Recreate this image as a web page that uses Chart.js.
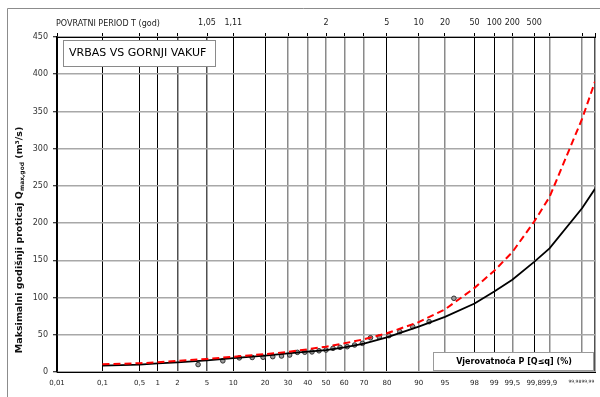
<!DOCTYPE html>
<html>
<head>
<meta charset="utf-8">
<script src="https://cdn.jsdelivr.net/npm/chart.js@4/dist/chart.umd.min.js"></script>
<style>
  html, body { margin: 0; padding: 0; background: #fff; }
  #wrap { width: 600px; height: 397px; position: relative; }
</style>
</head>
<body>
<div id="wrap"><canvas id="chart" width="600" height="397"></canvas></div>
<script>
// Probability grid (non-exceedance, %) and its labels
const probTicks = [0.01, 0.1, 0.5, 1, 2, 5, 10, 20, 30, 40, 50, 60, 70, 80, 90, 95, 98, 99, 99.5, 99.8, 99.9, 99.98, 99.99];
const probLabels = ['0,01', '0,1', '0,5', '1', '2', '5', '10', '20', '30', '40', '50', '60', '70', '80', '90', '95', '98', '99', '99,5', '99,8', '99,9', '99,98', '99,99'];
// Return period T (years) shown along the top edge
const periodLabels = ['', '', '', '', '', '1,05', '1,11', '', '', '', '2', '', '', '5', '10', '20', '50', '100', '200', '500', '', '', ''];
const yTicks = [0, 50, 100, 150, 200, 250, 300, 350, 400, 450];

// Fitted distributions, Q (m3/s) at each probability
const curveProb = [0.1, 0.5, 1, 2, 5, 10, 20, 30, 40, 50, 60, 70, 80, 90, 95, 98, 99, 99.5, 99.8, 99.9, 99.98, 99.99];
const qBlack = [8.5, 10, 11.5, 13, 15.5, 18.5, 22, 25, 27.5, 29.5, 33, 38, 46.5, 61, 74, 92, 108, 124, 148, 166, 220, 246];
const qRed = [10.3, 11.8, 13, 15, 17.5, 20.5, 24, 27, 30.5, 34, 38.5, 44, 52, 67, 84, 113, 136, 161, 202, 235, 340, 390];

// Observed annual maxima and their plotting positions (%)
const obsProb = [3.85, 7.69, 11.54, 15.38, 19.23, 23.08, 26.92, 30.77, 34.62, 38.46, 42.31, 46.15, 50.0, 53.85, 57.69, 61.54, 65.38, 69.23, 73.08, 76.92, 80.77, 84.62, 88.46, 92.31, 96.15];
const obsQ = [10, 15, 19, 19.5, 19.8, 20.6, 21.5, 22.8, 26.4, 26.6, 27, 28.5, 29.5, 31.8, 33.1, 34, 36.3, 38.5, 46, 47, 48.8, 54.2, 61, 67.6, 99];

// Inverse standard normal CDF (Acklam) - maps probability to the paper's abscissa
function probit(p) {
  const a = [-3.969683028665376e+01, 2.209460984245205e+02, -2.759285104469687e+02, 1.383577518672690e+02, -3.066479806614716e+01, 2.506628277459239e+00];
  const b = [-5.447609879822406e+01, 1.615858368580409e+02, -1.556989798598866e+02, 6.680131188771972e+01, -1.328068155288572e+01];
  const c = [-7.784894002430293e-03, -3.223964580411365e-01, -2.400758277161838e+00, -2.549732539343734e+00, 4.374664141464968e+00, 2.938163982698783e+00];
  const d = [7.784695709041462e-03, 3.224671290700398e-01, 2.445134137142996e+00, 3.754408661907416e+00];
  const pl = 0.02425, ph = 1 - pl;
  let q, r;
  if (p < pl) {
    q = Math.sqrt(-2 * Math.log(p));
    return (((((c[0]*q+c[1])*q+c[2])*q+c[3])*q+c[4])*q+c[5]) / ((((d[0]*q+d[1])*q+d[2])*q+d[3])*q+1);
  }
  if (p > ph) {
    q = Math.sqrt(-2 * Math.log(1 - p));
    return -(((((c[0]*q+c[1])*q+c[2])*q+c[3])*q+c[4])*q+c[5]) / ((((d[0]*q+d[1])*q+d[2])*q+d[3])*q+1);
  }
  q = p - 0.5; r = q * q;
  return (((((a[0]*r+a[1])*r+a[2])*r+a[3])*r+a[4])*r+a[5])*q / (((((b[0]*r+b[1])*r+b[2])*r+b[3])*r+b[4])*r+1);
}
const zOf = P => probit(P / 100);
const zMin = zOf(probTicks[0]);
const zMax = zOf(probTicks[probTicks.length - 1]);

const FONT = 'DejaVu Sans';
// vertical rulings: some drawn black, the rest grey
const darkRulings = new Set([0.01, 0.1, 0.5, 1, 10, 20, 80, 98, 99, 99.8]);
const midRulings = new Set([2, 5, 99.99]);
const rulingColor = i => {
  const p = probTicks[i];
  if (darkRulings.has(p)) return '#000000';
  if (midRulings.has(p)) return '#505050';
  return '#8a8a8a';
};
const rulingWidth = i => darkRulings.has(probTicks[i]) ? 1 : 1.5;

const probTickList = () => probTicks.map(p => ({ value: zOf(p) }));

// the two tightest labels at the right end are set small and pushed left of their rulings
const isTiny = i => i >= probTicks.length - 2;
const bottomLabel = i => isTiny(i) ? probLabels[i] + '\u2007\u2007\u2007\u2007\u2007' : probLabels[i];

const decor = {
  id: 'decor',
  beforeDraw(chart) {
    const ctx = chart.ctx;
    ctx.save();
    ctx.fillStyle = '#ffffff';
    ctx.fillRect(0, 0, chart.width, chart.height);
    ctx.restore();
  },
  afterDraw(chart) {
    const ctx = chart.ctx;
    const a = chart.chartArea;
    ctx.save();

    // outer frame
    ctx.strokeStyle = '#8c8c8c';
    ctx.lineWidth = 1;
    ctx.beginPath();
    ctx.moveTo(7.5, chart.height);
    ctx.lineTo(7.5, 8.5);
    ctx.lineTo(chart.width, 8.5);
    ctx.stroke();

    // top axis caption
    ctx.fillStyle = '#222';
    ctx.font = `8px "${FONT}"`;
    ctx.textAlign = 'left';
    ctx.textBaseline = 'middle';
    ctx.fillText('POVRATNI PERIOD T (god)', a.left - 1, 23.5);

    // station title box
    const tx = a.left + 6, ty = a.top + 3, tw = 152, th = 26;
    ctx.fillStyle = '#ffffff';
    ctx.fillRect(tx, ty, tw, th);
    ctx.strokeStyle = '#8a8a8a';
    ctx.strokeRect(tx + 0.5, ty + 0.5, tw, th);
    ctx.fillStyle = '#000';
    ctx.font = `11px "${FONT}"`;
    ctx.fillText('VRBAS VS GORNJI VAKUF', tx + 6, ty + th / 2);

    // x-axis caption box
    const bx = a.right - 162, by = a.bottom - 20, bw = 160, bh = 18;
    ctx.fillStyle = '#ffffff';
    ctx.fillRect(bx, by, bw, bh);
    ctx.strokeStyle = '#9a9a9a';
    ctx.strokeRect(bx + 0.5, by + 0.5, bw, bh);
    ctx.fillStyle = '#000';
    ctx.font = `bold 8px "${FONT}"`;
    ctx.textAlign = 'center';
    ctx.fillText('Vjerovatnoća P [Q≤q] (%)', bx + bw / 2 + 1, by + bh / 2 + 1);

    // y-axis caption with subscript
    const parts = [
      { t: 'Maksimalni godišnji proticaj Q', f: `bold 9.5px "${FONT}"`, dy: 0 },
      { t: 'max,god', f: `bold 6px "${FONT}"`, dy: 2.5 },
      { t: ' (m³/s)', f: `bold 9.5px "${FONT}"`, dy: 0 }
    ];
    let total = 0;
    parts.forEach(p => { ctx.font = p.f; p.w = ctx.measureText(p.t).width; total += p.w; });
    ctx.translate(20, 240);
    ctx.rotate(-Math.PI / 2);
    ctx.textAlign = 'left';
    ctx.textBaseline = 'middle';
    ctx.fillStyle = '#111';
    let cx = -total / 2;
    parts.forEach(p => { ctx.font = p.f; ctx.fillText(p.t, cx, p.dy); cx += p.w; });
    ctx.restore();
  }
};

new Chart(document.getElementById('chart'), {
  type: 'scatter',
  data: {
    datasets: [
      {
        label: 'red',
        data: curveProb.map((p, i) => ({ x: zOf(p), y: qRed[i] })),
        showLine: true,
        borderColor: '#ff0000',
        borderWidth: 2,
        borderDash: [7, 4],
        pointRadius: 0,
        tension: 0,
        xAxisID: 'x', yAxisID: 'y'
      },
      {
        label: 'black',
        data: curveProb.map((p, i) => ({ x: zOf(p), y: qBlack[i] })),
        showLine: true,
        borderColor: '#000000',
        borderWidth: 1.8,
        pointRadius: 0,
        tension: 0,
        xAxisID: 'x', yAxisID: 'y'
      },
      {
        label: 'obs',
        data: obsProb.map((p, i) => ({ x: zOf(p), y: obsQ[i] })),
        showLine: false,
        pointRadius: 2.3,
        pointBackgroundColor: '#9a9a9a',
        pointBorderColor: '#333333',
        pointBorderWidth: 1,
        xAxisID: 'x', yAxisID: 'y'
      }
    ]
  },
  options: {
    responsive: false,
    animation: false,
    devicePixelRatio: 1,
    layout: { padding: { top: 0, right: 3, bottom: 0, left: 0 } },
    plugins: { legend: { display: false }, tooltip: { enabled: false } },
    scales: {
      x: {
        type: 'linear', position: 'bottom', min: zMin, max: zMax,
        afterBuildTicks: s => { s.ticks = probTickList(); },
        afterFit: s => { s.height = 25; s.paddingLeft = 0; s.paddingRight = 0; },
        ticks: {
          autoSkip: false, maxRotation: 0, minRotation: 0, padding: 7, color: '#222',
          font: ctx => ({ family: FONT, size: isTiny(ctx.index) ? 4.5 : 7 }),
          callback: (v, i) => bottomLabel(i)
        },
        grid: {
          color: ctx => rulingColor(ctx.index),
          lineWidth: ctx => rulingWidth(ctx.index),
          drawTicks: false
        },
        border: { display: true, color: '#000', width: 1 }
      },
      x2: {
        type: 'linear', position: 'top', min: zMin, max: zMax,
        afterBuildTicks: s => { s.ticks = probTickList(); },
        afterFit: s => { s.height = 37; s.paddingLeft = 0; s.paddingRight = 0; },
        ticks: {
          autoSkip: false, maxRotation: 0, minRotation: 0, padding: 5, color: '#222',
          font: { family: FONT, size: 8 },
          callback: (v, i) => periodLabels[i]
        },
        grid: { drawOnChartArea: false, tickLength: 4, color: '#000', lineWidth: 1 },
        border: { display: true, color: '#000', width: 1 }
      },
      y: {
        type: 'linear', min: 0, max: 450,
        afterBuildTicks: s => { s.ticks = yTicks.map(v => ({ value: v })); },
        afterFit: s => { s.width = 57; s.paddingTop = 0; s.paddingBottom = 0; },
        ticks: {
          padding: 5, color: '#333', font: { family: FONT, size: 8 },
          callback: v => String(v)
        },
        grid: { color: '#a8a8a8', lineWidth: 1.5, tickLength: 4, tickColor: '#000', tickWidth: 1 },
        border: { display: true, color: '#000', width: 1.5 }
      }
    }
  },
  plugins: [decor]
});
</script>
</body>
</html>
